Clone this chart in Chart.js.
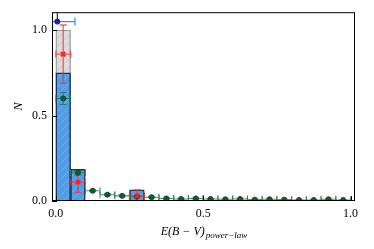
<!DOCTYPE html>
<html>
<head>
<meta charset="utf-8">
<script src="https://cdn.jsdelivr.net/npm/chart.js@4/dist/chart.umd.min.js"></script>
<style>
  html, body { margin: 0; padding: 0; background: #fff; }
  #wrap { width: 374px; height: 249px; }
</style>
</head>
<body>
<div id="wrap"><canvas id="chart" width="374" height="249"></canvas></div>
<script>
// histogram bins (only the filled ones)
const greyBinX = [0.025];
const greyBinN = [1.0];
const blueBinX = [0.025, 0.075, 0.275];
const blueBinN = [0.75, 0.185, 0.065];

// red points with errors
const redX = [0.025, 0.075, 0.275];
const redY = [0.86, 0.11, 0.03];
const redYErr = [0.17, 0.06, 0.035];
const redXErr = [0.025, 0.025, 0.025];

// green points (one per bin)
const greenX = [0.025, 0.075, 0.125, 0.175, 0.225, 0.275, 0.325, 0.375, 0.425, 0.475,
                0.525, 0.575, 0.625, 0.675, 0.725, 0.775, 0.825, 0.875, 0.925, 0.975];
const greenY = [0.60, 0.165, 0.06, 0.037, 0.03, 0.025, 0.022, 0.015, 0.012, 0.015,
                0.012, 0.01, 0.012, 0.008, 0.01, 0.008, 0.006, 0.006, 0.01, 0.006];
const greenYErr = [0.035, 0.012, 0.006, 0.005, 0.005, 0.005, 0.004, 0.004, 0.004, 0.004,
                   0.003, 0.003, 0.003, 0.003, 0.003, 0.003, 0.003, 0.003, 0.003, 0.003];
const greenXErr = 0.025;

// single blue point
const topX = [0.005];
const topY = [1.05];
const topXErr = [0.06];

const xTicks = [0, 0.5, 1.0];
const yTicks = [0, 0.5, 1.0];

const canvas = document.getElementById('chart');
const ctx = canvas.getContext('2d');

// diagonal hatch fill like matplotlib '//'
function makeHatch(bg, line) {
    const c = document.createElement('canvas');
    c.width = 8; c.height = 8;
    const g = c.getContext('2d');
    g.fillStyle = bg;
    g.fillRect(0, 0, 8, 8);
    g.strokeStyle = line;
    g.lineWidth = 1;
    g.beginPath();
    g.moveTo(0, 8); g.lineTo(8, 0);
    g.moveTo(-2, 2); g.lineTo(2, -2);
    g.moveTo(6, 10); g.lineTo(10, 6);
    g.stroke();
    return ctx.createPattern(c, 'repeat');
}

const serif = "'Liberation Serif', 'DejaVu Serif', serif";

// error bars, drawn right after the blue histogram so markers sit on top
const errorBars = {
    id: 'errorBars',
    afterDatasetDraw(chart, args) {
        if (args.index !== 1) return;
        const x = chart.scales.x, y = chart.scales.y, a = chart.chartArea;
        const c = chart.ctx;
        c.save();
        c.beginPath();
        c.rect(a.left, a.top, a.right - a.left, a.bottom - a.top);
        c.clip();

        function bar(px, py, xe, ye, color, cap, width) {
            const cx = x.getPixelForValue(px), cy = y.getPixelForValue(py);
            c.strokeStyle = color;
            c.lineWidth = width;
            c.beginPath();
            if (xe) {
                const l = x.getPixelForValue(px - xe), r = x.getPixelForValue(px + xe);
                c.moveTo(l, cy); c.lineTo(r, cy);
                c.moveTo(l, cy - cap); c.lineTo(l, cy + cap);
                c.moveTo(r, cy - cap); c.lineTo(r, cy + cap);
            }
            if (ye) {
                const t = y.getPixelForValue(py + ye), b = y.getPixelForValue(Math.max(0, py - ye));
                c.moveTo(cx, t); c.lineTo(cx, b);
                c.moveTo(cx - cap, t); c.lineTo(cx + cap, t);
                c.moveTo(cx - cap, b); c.lineTo(cx + cap, b);
            }
            c.stroke();
        }

        greenX.forEach((gx, i) => bar(gx, greenY[i], greenXErr, greenYErr[i], 'rgba(30,120,70,0.8)', 3.5, 1.1));
        redX.forEach((rx, i) => bar(rx, redY[i], redXErr[i], redYErr[i], 'rgba(255,40,40,0.75)', 3.5, 1.3));
        topX.forEach((tx, i) => bar(tx, topY[i], topXErr[i], 0, '#3d8ef0', 4, 1.3));
        // dark vertical stub above the top point
        c.strokeStyle = '#111';
        c.lineWidth = 1;
        c.beginPath();
        c.moveTo(x.getPixelForValue(topX[0]), a.top);
        c.lineTo(x.getPixelForValue(topX[0]), y.getPixelForValue(topY[0]));
        c.stroke();
        c.restore();
    }
};

// frame, inward ticks and x label with subscript
const frame = {
    id: 'frame',
    afterDraw(chart) {
        const a = chart.chartArea, c = chart.ctx;
        const x = chart.scales.x, y = chart.scales.y;
        c.save();
        c.strokeStyle = '#000';
        c.lineWidth = 1;
        c.strokeRect(a.left + 0.5, a.top + 0.5, a.right - a.left - 1, a.bottom - a.top - 1);
        c.beginPath();
        xTicks.forEach(v => {
            const px = Math.round(x.getPixelForValue(v)) + 0.5;
            c.moveTo(px, a.bottom); c.lineTo(px, a.bottom - 5);
        });
        yTicks.forEach(v => {
            const py = Math.round(y.getPixelForValue(v)) + 0.5;
            c.moveTo(a.left, py); c.lineTo(a.left + 5, py);
        });
        c.stroke();

        // x axis label E(B - V)_{power-law}
        c.fillStyle = '#000';
        c.textBaseline = 'alphabetic';
        const main = 'E(B \u2212 V)';
        const sub = 'power\u2212law';
        c.font = 'italic 12px ' + serif;
        const w1 = c.measureText(main).width;
        c.font = 'italic 9px ' + serif;
        const w2 = c.measureText(sub).width;
        const sx = (a.left + a.right) / 2 - (w1 + w2) / 2;
        const base = 235;
        c.font = 'italic 12px ' + serif;
        c.fillText(main, sx, base);
        c.font = 'italic 9px ' + serif;
        c.fillText(sub, sx + w1 + 1, base + 3);
        c.restore();
    }
};

new Chart(ctx, {
    type: 'bar',
    data: {
        datasets: [
            {
                label: 'grey',
                data: greyBinX.map((v, i) => ({ x: v, y: greyBinN[i] })),
                backgroundColor: makeHatch('#dcdcdc', '#cbcbcb'),
                borderColor: '#9a9a9a',
                borderWidth: 1.3,
                barPercentage: 1,
                categoryPercentage: 1,
                grouped: false,
                order: 5
            },
            {
                label: 'blue',
                data: blueBinX.map((v, i) => ({ x: v, y: blueBinN[i] })),
                backgroundColor: makeHatch('#529de6', '#6eaeec'),
                borderColor: '#1d3557',
                borderWidth: 1.5,
                barPercentage: 1,
                categoryPercentage: 1,
                grouped: false,
                order: 4
            },
            {
                type: 'scatter',
                label: 'green',
                data: greenX.map((v, i) => ({ x: v, y: greenY[i] })),
                backgroundColor: '#145a38',
                borderColor: '#0f4a2d',
                pointRadius: 2.5,
                order: 3
            },
            {
                type: 'scatter',
                label: 'red',
                data: redX.map((v, i) => ({ x: v, y: redY[i] })),
                backgroundColor: '#ff2020',
                borderColor: '#ff2020',
                pointStyle: 'crossRot',
                pointRadius: 3,
                borderWidth: 2,
                order: 2
            },
            {
                type: 'scatter',
                label: 'top',
                data: topX.map((v, i) => ({ x: v, y: topY[i] })),
                backgroundColor: '#1a2aa8',
                borderColor: '#0a1660',
                pointRadius: 2.5,
                order: 1
            }
        ]
    },
    options: {
        responsive: false,
        animation: false,
        layout: { padding: { left: 0, right: 19, top: 10, bottom: 0 } },
        plugins: {
            legend: { display: false },
            tooltip: { enabled: false }
        },
        scales: {
            x: {
                type: 'linear',
                min: -0.013,
                max: 1.015,
                offset: false,
                grid: { display: false, drawTicks: false },
                border: { display: false },
                afterBuildTicks: s => { s.ticks = xTicks.map(v => ({ value: v })); },
                afterFit: s => { s.height = 48; },
                ticks: {
                    color: '#000',
                    padding: 6,
                    maxRotation: 0,
                    font: { family: serif, size: 12 },
                    callback: v => Number(v).toFixed(1)
                }
            },
            y: {
                type: 'linear',
                min: 0,
                max: 1.105,
                grid: { display: false, drawTicks: false },
                border: { display: false },
                afterBuildTicks: s => { s.ticks = yTicks.map(v => ({ value: v })); },
                afterFit: s => { s.width = 52; },
                title: {
                    display: true,
                    text: 'N',
                    color: '#000',
                    padding: { top: 12, bottom: 4 },
                    font: { family: serif, size: 12, style: 'italic' }
                },
                ticks: {
                    color: '#000',
                    padding: 5,
                    font: { family: serif, size: 12 },
                    callback: v => Number(v).toFixed(1)
                }
            }
        }
    },
    plugins: [errorBars, frame]
});
</script>
</body>
</html>
